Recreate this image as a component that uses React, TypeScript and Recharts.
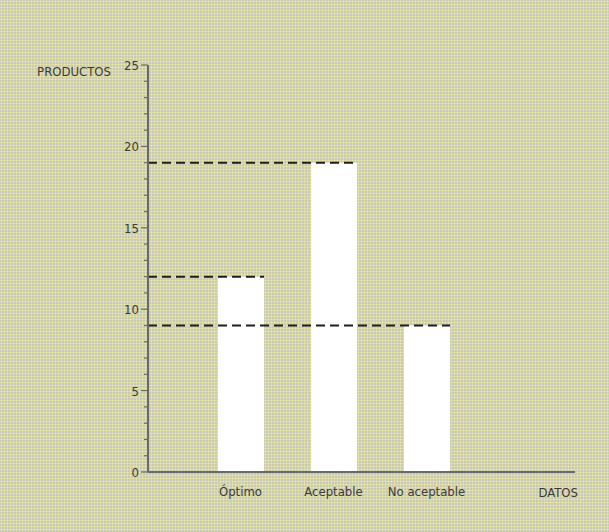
import { Bar, BarChart, XAxis, YAxis } from "recharts";

const categories = ["Óptimo", "Aceptable", "No aceptable"];
const productos = [12, 19, 9];
const yTicks = [0, 1, 2, 3, 4, 5, 6, 7, 8, 9, 10, 11, 12, 13, 14, 15, 16, 17, 18, 19, 20, 21, 22, 23, 24, 25];

const data = categories.map((name, i) => ({ name, value: productos[i] }));

const W = 609;
const H = 532;
const MARGIN = { top: 65, right: 34, bottom: 30, left: 0 };
const Y_AXIS_W = 148;
const PLOT_LEFT = MARGIN.left + Y_AXIS_W;
const FONT = "'Liberation Sans Narrow', 'DejaVu Sans Condensed', 'Roboto', sans-serif";
const TEXT = "#3a3a3a";
const AXIS_COLOR = "#6a6a66";

function YTick(props: any) {
  const { y, payload } = props;
  const v = payload.value as number;
  const major = v % 5 === 0;
  return (
    <g>
      <line x1={PLOT_LEFT - (major ? 7 : 4)} x2={PLOT_LEFT} y1={y} y2={y} stroke={AXIS_COLOR} strokeWidth={1.2} />
      {major && (
        <text x={PLOT_LEFT - 9} y={y + 5} textAnchor="end" fontSize={13} fill={TEXT} fontFamily={FONT}>
          {v}
        </text>
      )}
    </g>
  );
}

function XTick(props: any) {
  const { x, y, payload } = props;
  return (
    <text x={x} y={y + 16} textAnchor="middle" fontSize={13} fill={TEXT} fontFamily={FONT}>
      {payload.value}
    </text>
  );
}

// barra blanca + línea discontinua desde el eje hasta el borde derecho
function BarWithGuide(props: any) {
  const { x, y, width, height } = props;
  return (
    <g>
      <rect x={x} y={y} width={width} height={height} fill="#ffffff" />
      <line
        x1={PLOT_LEFT}
        x2={x + width}
        y1={y}
        y2={y}
        stroke="#1e1e1e"
        strokeWidth={2}
        strokeDasharray="9 5"
      />
    </g>
  );
}

export default function App() {
  return (
    <div
      style={{
        position: "absolute",
        left: 0,
        top: 0,
        width: W,
        height: H,
        backgroundColor: "#c9c9b5",
        backgroundImage: "radial-gradient(circle, #ebeba2 0.8px, transparent 1.2px)",
        backgroundSize: "3px 3px",
      }}
    >
      <BarChart width={W} height={H} data={data} margin={MARGIN}>
        <XAxis
          dataKey="name"
          height={30}
          padding={{ left: 46, right: 102 }}
          axisLine={{ stroke: AXIS_COLOR, strokeWidth: 2 }}
          tickLine={false}
          tick={<XTick />}
          interval={0}
        />
        <YAxis
          width={Y_AXIS_W}
          domain={[0, 25]}
          ticks={yTicks}
          interval={0}
          axisLine={{ stroke: AXIS_COLOR, strokeWidth: 2 }}
          tickLine={false}
          tick={<YTick />}
        />
        <Bar dataKey="value" barSize={46} shape={<BarWithGuide />} isAnimationActive={false} />
        <text x={111} y={76} textAnchor="end" fontSize={13} fill={TEXT} fontFamily={FONT}>
          PRODUCTOS
        </text>
        <text x={578} y={497} textAnchor="end" fontSize={13} fill={TEXT} fontFamily={FONT}>
          DATOS
        </text>
      </BarChart>
    </div>
  );
}
